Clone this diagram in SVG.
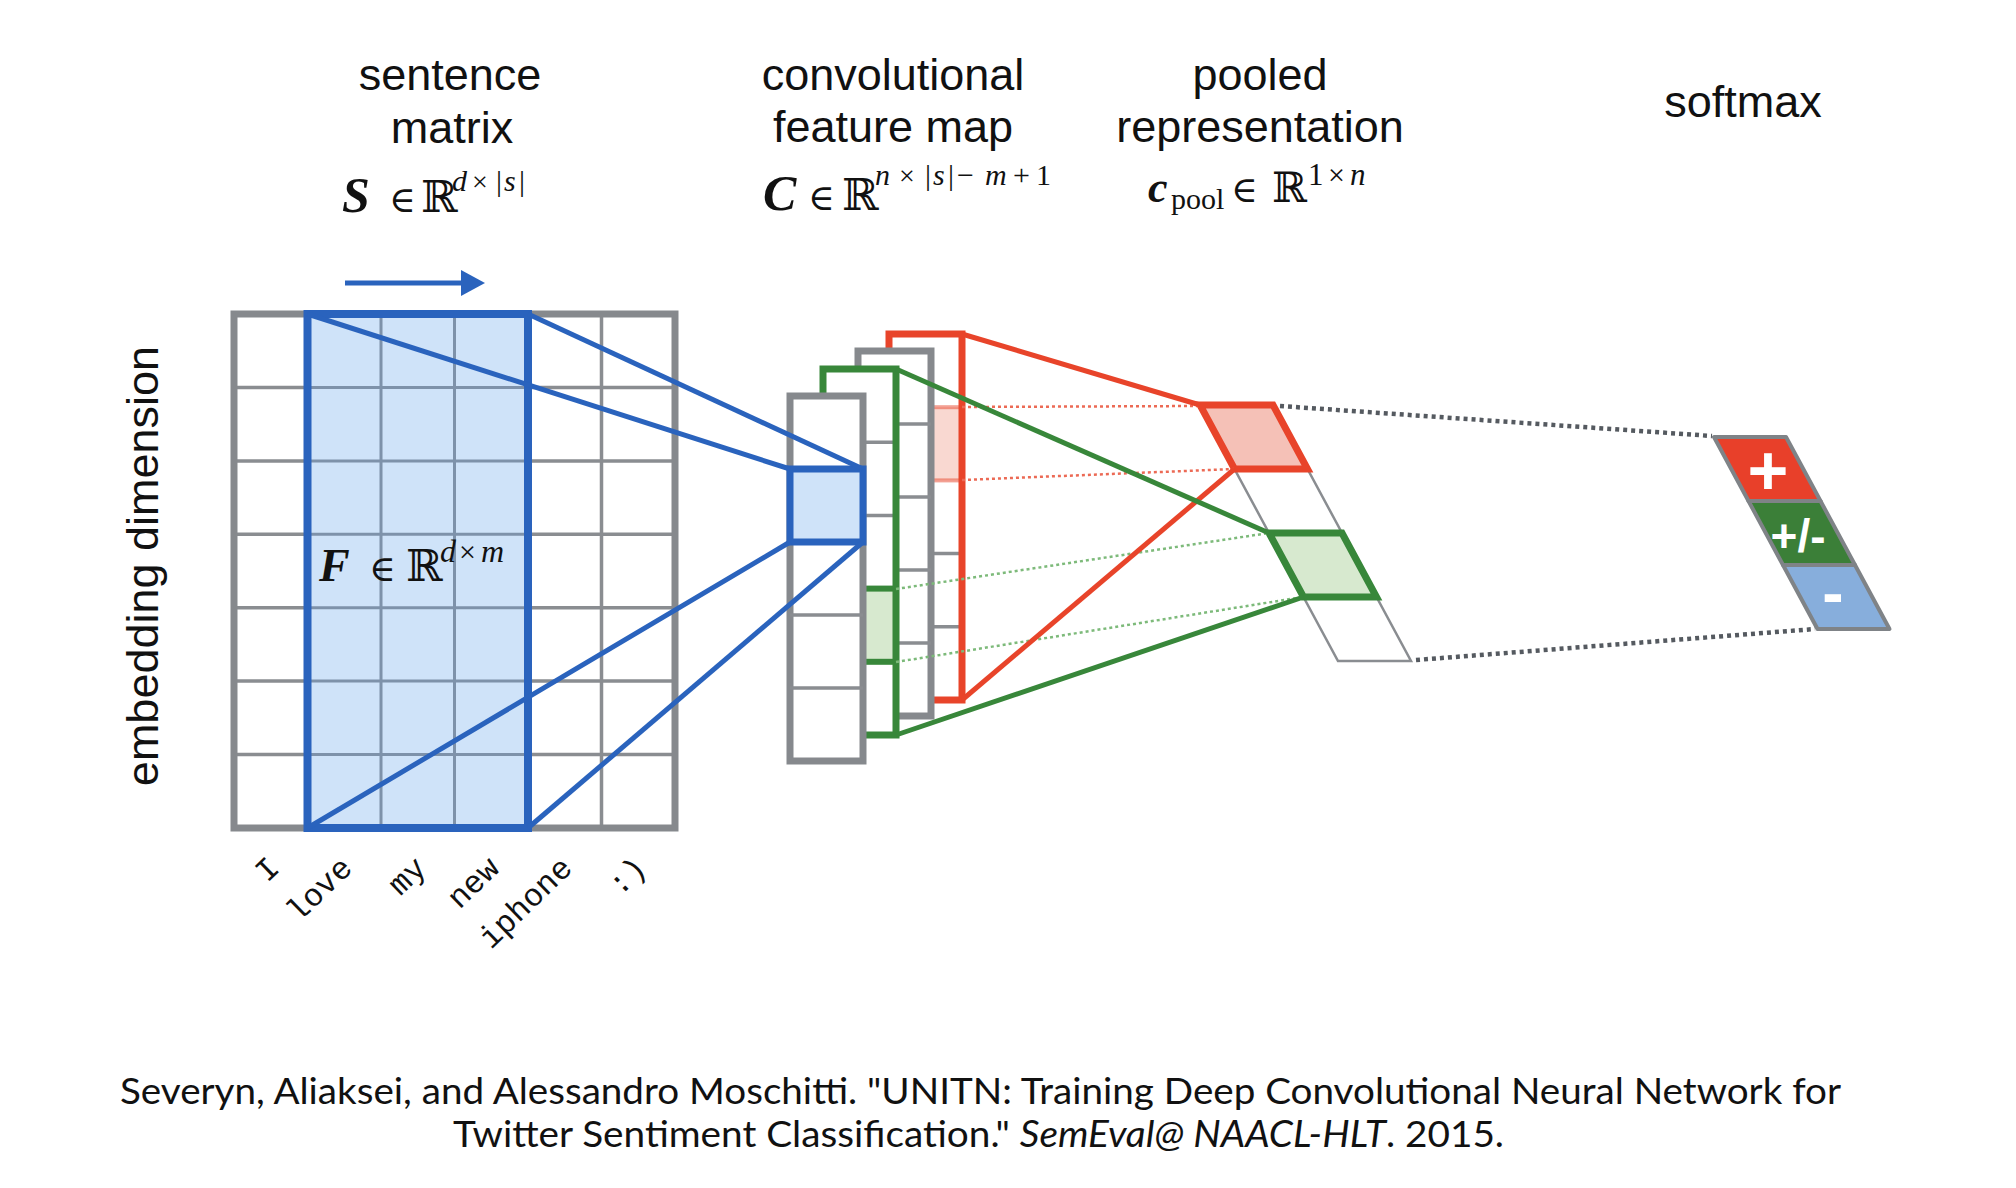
<svg xmlns="http://www.w3.org/2000/svg" width="2016" height="1188" viewBox="0 0 2016 1188">
<style>
.h{font-family:"Liberation Sans",Arial,sans-serif;font-size:45px;fill:#111;text-anchor:middle}
.m{font-family:"Liberation Serif","DejaVu Serif",serif;fill:#111}
.bi{font-weight:bold;font-style:italic}
.it{font-style:italic}
.w{font-family:"Liberation Mono","Courier New",monospace;font-size:32px;fill:#111;text-anchor:end}
.cit{font-family:Lato,"Noto Sans",sans-serif;font-size:36px;fill:#111}
.gcell{fill:#fff;stroke:#86898d;stroke-width:7}
.gl{stroke:#8a8d91;stroke-width:3.5}
.bl{stroke:#7e92aa;stroke-width:3}
.blue{stroke:#2a63bd;stroke-width:5;fill:none}
.red{stroke:#e8442a;stroke-width:5;fill:none}
.grn{stroke:#38873a;stroke-width:5;fill:none}
.rdot{stroke:#ec6a55;stroke-width:2.5;stroke-dasharray:3 3;fill:none}
.gdot{stroke:#7dba7a;stroke-width:2.5;stroke-dasharray:3 3;fill:none}
.kdot{stroke:#555a60;stroke-width:4.5;stroke-dasharray:4 4;fill:none}
.pw{fill:#fff;stroke:#8a8d91;stroke-width:2.5}
.sm{stroke:#7f8387;stroke-width:4;stroke-linejoin:round}
.sym{font-family:"Liberation Sans",Arial,sans-serif;font-weight:bold;fill:#fff;text-anchor:middle}
</style>
<rect width="2016" height="1188" fill="#fff"/>

<g id="titles">
<text class="h" x="450" y="90">sentence</text>
<text class="h" x="452" y="143">matrix</text>
<text class="h" x="893" y="90">convolutional</text>
<text class="h" x="893" y="142">feature map</text>
<text class="h" x="1260" y="90">pooled</text>
<text class="h" x="1260" y="142">representation</text>
<text class="h" x="1743" y="117">softmax</text>
</g>

<g id="formulas">
<text class="m" y="212"><tspan class="bi" x="342" font-size="50">S</tspan><tspan x="389" font-size="36">∈</tspan><tspan x="421" font-size="44">ℝ</tspan><tspan class="it" x="452" y="191" font-size="30">d</tspan><tspan x="472" y="191" font-size="28">×</tspan><tspan x="496" y="191" font-size="30">|</tspan><tspan class="it" x="504" y="191" font-size="30">s</tspan><tspan x="519" y="191" font-size="30">|</tspan></text>
<text class="m" y="210"><tspan class="bi" x="763" font-size="50">C</tspan><tspan x="808" font-size="36">∈</tspan><tspan x="842" font-size="44">ℝ</tspan><tspan class="it" x="875" y="185" font-size="30">n</tspan><tspan x="899" y="185" font-size="28">×</tspan><tspan x="925" y="185" font-size="30">|</tspan><tspan class="it" x="933" y="185" font-size="30">s</tspan><tspan x="948" y="185" font-size="30">|</tspan><tspan x="957" y="185" font-size="30">−</tspan><tspan class="it" x="985" y="185" font-size="30">m</tspan><tspan x="1013" y="185" font-size="30">+</tspan><tspan x="1036" y="185" font-size="30">1</tspan></text>
<text class="m" y="202"><tspan class="bi" x="1148" font-size="44">c</tspan><tspan x="1171" y="209" font-size="30">pool</tspan><tspan x="1231" y="202" font-size="36">∈</tspan><tspan x="1272" y="202" font-size="42">ℝ</tspan><tspan x="1308" y="185" font-size="31">1</tspan><tspan x="1328" y="185" font-size="30">×</tspan><tspan class="it" x="1350" y="185" font-size="31">n</tspan></text>
</g>

<g id="sentence-matrix">
<rect x="234" y="314" width="441" height="514" fill="#fff"/>
<rect x="307.5" y="314" width="220.5" height="514" fill="#cfe3f9"/>
<g class="gl">
<line x1="601.5" y1="314" x2="601.5" y2="828"/>
<line x1="234" y1="387.4" x2="307.5" y2="387.4"/><line x1="528" y1="387.4" x2="675" y2="387.4"/>
<line x1="234" y1="460.9" x2="307.5" y2="460.9"/><line x1="528" y1="460.9" x2="675" y2="460.9"/>
<line x1="234" y1="534.3" x2="307.5" y2="534.3"/><line x1="528" y1="534.3" x2="675" y2="534.3"/>
<line x1="234" y1="607.7" x2="307.5" y2="607.7"/><line x1="528" y1="607.7" x2="675" y2="607.7"/>
<line x1="234" y1="681.1" x2="307.5" y2="681.1"/><line x1="528" y1="681.1" x2="675" y2="681.1"/>
<line x1="234" y1="754.6" x2="307.5" y2="754.6"/><line x1="528" y1="754.6" x2="675" y2="754.6"/>
</g>
<g class="bl">
<line x1="381" y1="314" x2="381" y2="828"/><line x1="454.5" y1="314" x2="454.5" y2="828"/>
<line x1="307.5" y1="387.4" x2="528" y2="387.4"/>
<line x1="307.5" y1="460.9" x2="528" y2="460.9"/>
<line x1="307.5" y1="534.3" x2="528" y2="534.3"/>
<line x1="307.5" y1="607.7" x2="528" y2="607.7"/>
<line x1="307.5" y1="681.1" x2="528" y2="681.1"/>
<line x1="307.5" y1="754.6" x2="528" y2="754.6"/>
</g>
<rect x="234" y="314" width="441" height="514" fill="none" stroke="#86898d" stroke-width="7"/>
<rect x="307.5" y="314" width="220.5" height="514" fill="none" stroke="#2a63bd" stroke-width="8"/>
<text class="m" y="581"><tspan class="bi" x="319" font-size="46">F</tspan><tspan x="369" font-size="36">∈</tspan><tspan x="406" font-size="44">ℝ</tspan><tspan class="it" x="440" y="562" font-size="32">d</tspan><tspan x="459" y="562" font-size="30">×</tspan><tspan class="it" x="481" y="562" font-size="32">m</tspan></text>
</g>

<g id="slide-arrow">
<line x1="345" y1="283" x2="465" y2="283" stroke="#2a63bd" stroke-width="5"/>
<polygon points="461,270 485,283 461,296" fill="#2a63bd"/>
</g>

<g id="axis-label">
<text class="h" transform="translate(158,566) rotate(-90)" x="0" y="0">embedding dimension</text>
</g>

<g id="words">
<text class="w" transform="translate(281,870) rotate(-44)">I</text>
<text class="w" transform="translate(354,870) rotate(-44)">love</text>
<text class="w" transform="translate(428,870) rotate(-44)">my</text>
<text class="w" transform="translate(501,870) rotate(-44)">new</text>
<text class="w" transform="translate(574,870) rotate(-44)">iphone</text>
<text class="w" transform="translate(648,870) rotate(-44)">:)</text>
</g>

<g id="feature-map-red">
<rect x="889" y="334" width="73" height="366" fill="#fff"/>
<g class="gl"><line x1="889" y1="553.6" x2="962" y2="553.6"/><line x1="889" y1="626.8" x2="962" y2="626.8"/></g>
<rect x="889" y="407.2" width="73" height="73.2" fill="#f9d8d1" stroke="#e8442a" stroke-opacity="0.5" stroke-width="4"/>
<rect x="889" y="334" width="73" height="366" fill="none" stroke="#e8442a" stroke-width="7"/>
</g>
<g id="feature-map-gray">
<rect class="gcell" x="858" y="351" width="73" height="365"/>
<g class="gl"><line x1="858" y1="424" x2="931" y2="424"/><line x1="858" y1="497" x2="931" y2="497"/><line x1="858" y1="570" x2="931" y2="570"/><line x1="858" y1="643" x2="931" y2="643"/></g>
</g>
<g id="feature-map-green">
<rect x="823" y="369" width="73" height="366" fill="#fff"/>
<g class="gl"><line x1="823" y1="442.2" x2="896" y2="442.2"/><line x1="823" y1="515.4" x2="896" y2="515.4"/></g>
<rect x="823" y="588.6" width="73" height="73.2" fill="#d7e9cf" stroke="#38873a" stroke-width="6"/>
<rect x="823" y="369" width="73" height="366" fill="none" stroke="#38873a" stroke-width="7"/>
</g>
<g id="feature-map-front">
<rect class="gcell" x="790" y="396" width="73" height="365"/>
<g class="gl"><line x1="790" y1="615" x2="863" y2="615"/><line x1="790" y1="688" x2="863" y2="688"/></g>
<rect x="790" y="469" width="73" height="73" fill="#cfe3f9" stroke="#2a63bd" stroke-width="7"/>
</g>

<g id="pooled">
<polygon class="pw" points="1234.5,469 1307.5,469 1342,533 1269,533"/>
<polygon class="pw" points="1303.5,597 1376.5,597 1411,661 1338,661"/>
<polygon points="1200,405 1273,405 1307.5,469 1234.5,469" fill="#f5c1b7" stroke="#e8442a" stroke-width="7" stroke-linejoin="miter"/>
<polygon points="1269,533 1342,533 1376.5,597 1303.5,597" fill="#d7e9cf" stroke="#38873a" stroke-width="7" stroke-linejoin="miter"/>
</g>

<g id="softmax">
<polygon class="sm" points="1714,437 1786,437 1820.5,501 1748.5,501" fill="#e8402a"/>
<polygon class="sm" points="1748.5,501 1820.5,501 1855,565 1783,565" fill="#3b7f38"/>
<polygon class="sm" points="1783,565 1855,565 1889.5,629 1817.5,629" fill="#87aedc"/>
<text class="sym" x="1768" y="495" font-size="70">+</text>
<text class="sym" x="1798" y="552" font-size="46">+/-</text>
<text class="sym" x="1833" y="615" font-size="64">-</text>
</g>

<g id="connectors">
<line class="blue" x1="307.5" y1="314" x2="790" y2="469"/>
<line class="blue" x1="528" y1="314" x2="863" y2="469"/>
<line class="blue" x1="307.5" y1="828" x2="790" y2="542"/>
<line class="blue" x1="528" y1="828" x2="863" y2="542"/>
<line class="rdot" x1="962" y1="407" x2="1200" y2="406"/>
<line class="rdot" x1="962" y1="480" x2="1234" y2="469"/>
<line class="gdot" x1="896" y1="589" x2="1269" y2="533"/>
<line class="gdot" x1="896" y1="662" x2="1303" y2="597"/>
<line class="red" x1="962" y1="334" x2="1200" y2="405"/>
<line class="red" x1="962" y1="700" x2="1234.5" y2="469"/>
<line class="grn" x1="896" y1="369" x2="1269" y2="533"/>
<line class="grn" x1="896" y1="735" x2="1303.5" y2="597"/>
<line class="kdot" x1="1280" y1="406" x2="1712" y2="436"/>
<line class="kdot" x1="1416" y1="660" x2="1815" y2="629"/>
</g>

<g id="citation">
<text class="cit" x="120" y="1104" textLength="1721" lengthAdjust="spacingAndGlyphs">Severyn, Aliaksei, and Alessandro Moschitti. "UNITN: Training Deep Convolutional Neural Network for</text>
<text class="cit" x="453" y="1147" textLength="1051" lengthAdjust="spacingAndGlyphs">Twitter Sentiment Classification." <tspan font-style="italic">SemEval@ NAACL-HLT</tspan>. 2015.</text>
</g>
</svg>
